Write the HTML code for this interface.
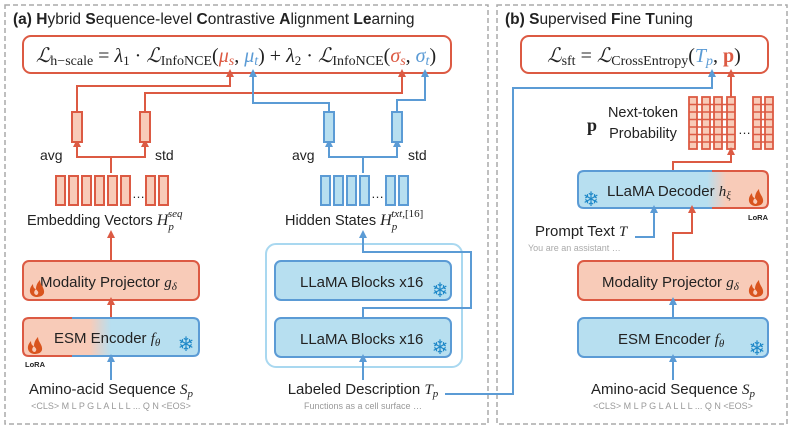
<!DOCTYPE html>
<html><head><meta charset="utf-8"><style>
body{margin:0;background:#fff}
svg{display:block}
text{font-family:"Liberation Sans",sans-serif}
.m{font-family:"Liberation Serif",serif}
.i{font-style:italic}
</style></head><body>
<svg width="793" height="430" viewBox="0 0 793 430" xmlns="http://www.w3.org/2000/svg">
<defs>
<marker id="ar" markerWidth="8" markerHeight="8" refX="4" refY="4" orient="auto" markerUnits="userSpaceOnUse"><path d="M0,0 L8,4 L0,8 z" fill="#dc5a43"/></marker>
<marker id="ab" markerWidth="8" markerHeight="8" refX="4" refY="4" orient="auto" markerUnits="userSpaceOnUse"><path d="M0,0 L8,4 L0,8 z" fill="#5b9bd5"/></marker>
<linearGradient id="g1" x1="0" x2="1"><stop offset="0.38" stop-color="#f8cbb8"/><stop offset="0.5" stop-color="#b7dff0"/></linearGradient>
<linearGradient id="g2" x1="0" x2="1"><stop offset="0.68" stop-color="#b7dff0"/><stop offset="0.78" stop-color="#f8cbb8"/></linearGradient>
<g id="fire"><path d="M0,0 C-7,-1 -8,-8 -3,-13 C-3,-9 -1,-8 0,-8 C0,-12 2,-15 4,-17 C4,-12 9,-9 8,-4 C7,-1 4,0 0,0 z M1,-2 C-2,-2 -3,-5 0,-8 C1,-6 4,-5 1,-2z" fill="#d9541e" fill-rule="evenodd"/></g>
</defs>
<rect x="5" y="5" width="483" height="419" fill="none" stroke="#aaa" stroke-width="1.5" stroke-dasharray="5,3"/>
<rect x="497" y="5" width="290" height="419" fill="none" stroke="#aaa" stroke-width="1.5" stroke-dasharray="5,3"/>
<text x="13" y="24" font-size="15.5" fill="#222"><tspan font-weight="bold">(a) H</tspan>ybrid <tspan font-weight="bold">S</tspan>equence-level <tspan font-weight="bold">C</tspan>ontrastive <tspan font-weight="bold">A</tspan>lignment <tspan font-weight="bold">Le</tspan>arning</text>
<text x="505" y="24" font-size="15.5" fill="#222"><tspan font-weight="bold">(b) S</tspan>upervised <tspan font-weight="bold">F</tspan>ine <tspan font-weight="bold">T</tspan>uning</text>

<rect x="23" y="36" width="428" height="37" rx="8" fill="#fff" stroke="#dc5a43" stroke-width="2"/>
<text x="236" y="62" text-anchor="middle" class="m" font-size="20" fill="#222"><tspan class="i">ℒ</tspan><tspan font-size="14" dy="3">h−scale</tspan><tspan dy="-3"> = </tspan><tspan class="i">λ</tspan><tspan font-size="13" dy="3">1</tspan><tspan dy="-3"> · </tspan><tspan class="i">ℒ</tspan><tspan font-size="14" dy="3">InfoNCE</tspan><tspan dy="-3">(</tspan><tspan class="i" fill="#dc5a43">μ</tspan><tspan class="i" fill="#dc5a43" font-size="14" dy="3">s</tspan><tspan dy="-3">, </tspan><tspan class="i" fill="#5b9bd5">μ</tspan><tspan class="i" fill="#5b9bd5" font-size="14" dy="3">t</tspan><tspan dy="-3">) + </tspan><tspan class="i">λ</tspan><tspan font-size="13" dy="3">2</tspan><tspan dy="-3"> · </tspan><tspan class="i">ℒ</tspan><tspan font-size="14" dy="3">InfoNCE</tspan><tspan dy="-3">(</tspan><tspan class="i" fill="#dc5a43">σ</tspan><tspan class="i" fill="#dc5a43" font-size="14" dy="3">s</tspan><tspan dy="-3">, </tspan><tspan class="i" fill="#5b9bd5">σ</tspan><tspan class="i" fill="#5b9bd5" font-size="14" dy="3">t</tspan><tspan dy="-3">)</tspan></text>
<rect x="521" y="36" width="247" height="37" rx="8" fill="#fff" stroke="#dc5a43" stroke-width="2"/>
<text x="644" y="62" text-anchor="middle" class="m" font-size="20" fill="#222"><tspan class="i">ℒ</tspan><tspan font-size="14" dy="3">sft</tspan><tspan dy="-3"> = </tspan><tspan class="i">ℒ</tspan><tspan font-size="14" dy="3">CrossEntropy</tspan><tspan dy="-3">(</tspan><tspan class="i" fill="#5b9bd5">T</tspan><tspan class="i" fill="#5b9bd5" font-size="14" dy="3">p</tspan><tspan dy="-3">, </tspan><tspan font-weight="bold" fill="#dc5a43">p</tspan><tspan>)</tspan></text>

<g fill="none" stroke-width="2">
<polyline points="77,112 77,86 230,86 230,73" stroke="#dc5a43" marker-end="url(#ar)"/>
<polyline points="145,112 145,93 402,93 402,73" stroke="#dc5a43" marker-end="url(#ar)"/>
<polyline points="329,112 329,103 253,103 253,73" stroke="#5b9bd5" marker-end="url(#ab)"/>
<polyline points="397,112 397,100 425,100 425,73" stroke="#5b9bd5" marker-end="url(#ab)"/>
<polyline points="111,173 111,157 77,157 77,143" stroke="#dc5a43" marker-end="url(#ar)"/>
<polyline points="111,157 145,157 145,143" stroke="#dc5a43" marker-end="url(#ar)"/>
<polyline points="363,173 363,157 329,157 329,143" stroke="#5b9bd5" marker-end="url(#ab)"/>
<polyline points="363,157 397,157 397,143" stroke="#5b9bd5" marker-end="url(#ab)"/>
</g>
<rect x="72" y="112" width="10" height="30" fill="#f8cbb8" stroke="#dc5a43" stroke-width="2"/>
<rect x="140" y="112" width="10" height="30" fill="#f8cbb8" stroke="#dc5a43" stroke-width="2"/>
<rect x="324" y="112" width="10" height="30" fill="#b7dff0" stroke="#5b9bd5" stroke-width="2"/>
<rect x="392" y="112" width="10" height="30" fill="#b7dff0" stroke="#5b9bd5" stroke-width="2"/>
<text x="40" y="160" font-size="14" fill="#222">avg</text>
<text x="155" y="160" font-size="14" fill="#222">std</text>
<text x="292" y="160" font-size="14" fill="#222">avg</text>
<text x="408" y="160" font-size="14" fill="#222">std</text>
<g fill="#f8cbb8" stroke="#dc5a43" stroke-width="2">
<rect x="56" y="176" width="9" height="29"/><rect x="69" y="176" width="9" height="29"/><rect x="82" y="176" width="9" height="29"/><rect x="95" y="176" width="9" height="29"/><rect x="108" y="176" width="9" height="29"/><rect x="121" y="176" width="9" height="29"/><rect x="146" y="176" width="9" height="29"/><rect x="159" y="176" width="9" height="29"/>
</g>
<text x="132" y="198" font-size="13" fill="#222">…</text>
<g fill="#b7dff0" stroke="#5b9bd5" stroke-width="2">
<rect x="321" y="176" width="9" height="29"/><rect x="334" y="176" width="9" height="29"/><rect x="347" y="176" width="9" height="29"/><rect x="360" y="176" width="9" height="29"/><rect x="386" y="176" width="9" height="29"/><rect x="399" y="176" width="9" height="29"/>
</g>
<text x="371" y="198" font-size="13" fill="#222">…</text>
<text x="27" y="225" font-size="14.5" fill="#222">Embedding Vectors <tspan class="m i" font-size="16">H</tspan><tspan class="m i" font-size="11" dy="5">p</tspan><tspan class="m i" font-size="11" dy="-13" dx="-6">seq</tspan></text>
<text x="285" y="225" font-size="14.5" fill="#222">Hidden States <tspan class="m i" font-size="16">H</tspan><tspan class="m i" font-size="11" dy="5">p</tspan><tspan class="m" font-size="11" dy="-13" dx="-6"><tspan class="i">txt</tspan>,[16]</tspan></text>

<line x1="111" y1="260" x2="111" y2="234" stroke="#dc5a43" stroke-width="2" marker-end="url(#ar)"/>
<rect x="23" y="261" width="176" height="39" rx="6" fill="#f8cbb8" stroke="#dc5a43" stroke-width="2"/>
<text x="40" y="287" font-size="15" fill="#222">Modality Projector <tspan class="m i">g</tspan><tspan class="m i" font-size="11" dy="3">δ</tspan></text>
<use href="#fire" x="36" y="297"/>
<line x1="111" y1="318" x2="111" y2="301" stroke="#dc5a43" stroke-width="2" marker-end="url(#ar)"/>
<rect x="23" y="318" width="176" height="38" rx="6" fill="url(#g1)" stroke="none"/>
<path d="M29,318 H72 M29,356 H72 M23,324 V350" stroke="#dc5a43" stroke-width="2" fill="none"/>
<path d="M72,318 H193 Q199,318 199,324 V350 Q199,356 193,356 H72" stroke="#5b9bd5" stroke-width="2" fill="none"/>
<path d="M29,318 Q23,318 23,324 M23,350 Q23,356 29,356" stroke="#dc5a43" stroke-width="2" fill="none"/>
<text x="54" y="343" font-size="15" fill="#222">ESM Encoder <tspan class="m i">f</tspan><tspan class="m i" font-size="11" dy="3">θ</tspan></text>
<use href="#fire" x="34" y="354"/>
<text x="186" y="351" font-size="20" fill="#1e88c8" text-anchor="middle">❄</text>
<text x="25" y="367" font-size="7.5" font-weight="bold" fill="#222">LoRA</text>
<line x1="111" y1="380" x2="111" y2="358" stroke="#5b9bd5" stroke-width="2" marker-end="url(#ab)"/>
<text x="111" y="394" text-anchor="middle" font-size="15" fill="#222">Amino-acid Sequence <tspan class="m i">S</tspan><tspan class="m i" font-size="11" dy="3">p</tspan></text>
<text x="111" y="409" text-anchor="middle" font-size="9" fill="#999">&lt;CLS&gt; M L P G L A L L L ... Q N &lt;EOS&gt;</text>

<rect x="266" y="244" width="196" height="123" rx="10" fill="none" stroke="#a9d8f0" stroke-width="2"/>
<rect x="275" y="261" width="176" height="39" rx="6" fill="#b7dff0" stroke="#5b9bd5" stroke-width="2"/>
<text x="300" y="287" font-size="15" fill="#222">LLaMA Blocks x16</text>
<text x="440" y="297" font-size="20" fill="#1e88c8" text-anchor="middle">❄</text>
<rect x="275" y="318" width="176" height="39" rx="6" fill="#b7dff0" stroke="#5b9bd5" stroke-width="2"/>
<text x="300" y="344" font-size="15" fill="#222">LLaMA Blocks x16</text>
<text x="440" y="354" font-size="20" fill="#1e88c8" text-anchor="middle">❄</text>
<polyline points="363,318 363,308 471,308 471,252 363,252 363,234" fill="none" stroke="#5b9bd5" stroke-width="2" marker-end="url(#ab)"/>
<line x1="363" y1="380" x2="363" y2="358" stroke="#5b9bd5" stroke-width="2" marker-end="url(#ab)"/>
<text x="363" y="394" text-anchor="middle" font-size="15" fill="#222">Labeled Description <tspan class="m i">T</tspan><tspan class="m i" font-size="11" dy="3">p</tspan></text>
<text x="363" y="409" text-anchor="middle" font-size="9" fill="#999">Functions as a cell surface …</text>
<polyline points="445,394 513,394 513,88 712,88 712,73" fill="none" stroke="#5b9bd5" stroke-width="2" marker-end="url(#ab)"/>

<line x1="731" y1="97" x2="731" y2="73" stroke="#dc5a43" stroke-width="2" marker-end="url(#ar)"/>
<g fill="#f8cbb8" stroke="#dc5a43" stroke-width="1.8">
<rect x="689" y="97" width="8" height="52"/><rect x="702" y="97" width="8" height="52"/><rect x="714" y="97" width="8" height="52"/><rect x="727" y="97" width="8" height="52"/><rect x="753" y="97" width="8" height="52"/><rect x="765" y="97" width="8" height="52"/>
</g>
<g stroke="#dc5a43" stroke-width="1.5">
<path d="M689,104.5H735M689,112H735M689,119.5H735M689,127H735M689,134.5H735M689,142H735M753,104.5H773M753,112H773M753,119.5H773M753,127H773M753,134.5H773M753,142H773"/>
</g>
<text x="738" y="134" font-size="13" fill="#222">…</text>
<text x="587" y="131" class="m" font-size="18" font-weight="bold" fill="#222">p</text>
<text x="643" y="117" text-anchor="middle" font-size="14.5" fill="#222">Next-token</text>
<text x="643" y="138" text-anchor="middle" font-size="14.5" fill="#222">Probability</text>
<polyline points="673,171 673,162 731,162 731,151" fill="none" stroke="#dc5a43" stroke-width="2" marker-end="url(#ar)"/>
<rect x="578" y="171" width="190" height="37" rx="6" fill="url(#g2)"/>
<path d="M712,171 H584 Q578,171 578,177 V202 Q578,208 584,208 H712" stroke="#5b9bd5" stroke-width="2" fill="none"/>
<path d="M712,171 H762 Q768,171 768,177 V202 Q768,208 762,208 H712" stroke="#dc5a43" stroke-width="2" fill="none"/>
<text x="607" y="196" font-size="15" fill="#222">LLaMA Decoder <tspan class="m i">h</tspan><tspan class="m i" font-size="11" dy="3">ξ</tspan></text>
<text x="591" y="206" font-size="20" fill="#1e88c8" text-anchor="middle">❄</text>
<use href="#fire" x="755" y="206"/>
<text x="748" y="220" font-size="7.5" font-weight="bold" fill="#222">LoRA</text>
<text x="535" y="236" font-size="15" fill="#222">Prompt Text <tspan class="m i">T</tspan></text>
<text x="528" y="251" font-size="9" fill="#aaa">You are an assistant …</text>
<polyline points="635,237 654,237 654,209" fill="none" stroke="#5b9bd5" stroke-width="2" marker-end="url(#ab)"/>
<polyline points="673,261 673,233 692,233 692,209" fill="none" stroke="#dc5a43" stroke-width="2" marker-end="url(#ar)"/>
<rect x="578" y="261" width="190" height="39" rx="6" fill="#f8cbb8" stroke="#dc5a43" stroke-width="2"/>
<text x="602" y="287" font-size="15" fill="#222">Modality Projector <tspan class="m i">g</tspan><tspan class="m i" font-size="11" dy="3">δ</tspan></text>
<use href="#fire" x="755" y="297"/>
<line x1="673" y1="318" x2="673" y2="301" stroke="#5b9bd5" stroke-width="2" marker-end="url(#ab)"/>
<rect x="578" y="318" width="190" height="39" rx="6" fill="#b7dff0" stroke="#5b9bd5" stroke-width="2"/>
<text x="618" y="344" font-size="15" fill="#222">ESM Encoder <tspan class="m i">f</tspan><tspan class="m i" font-size="11" dy="3">θ</tspan></text>
<text x="757" y="355" font-size="20" fill="#1e88c8" text-anchor="middle">❄</text>
<line x1="673" y1="380" x2="673" y2="358" stroke="#5b9bd5" stroke-width="2" marker-end="url(#ab)"/>
<text x="673" y="394" text-anchor="middle" font-size="15" fill="#222">Amino-acid Sequence <tspan class="m i">S</tspan><tspan class="m i" font-size="11" dy="3">p</tspan></text>
<text x="673" y="409" text-anchor="middle" font-size="9" fill="#999">&lt;CLS&gt; M L P G L A L L L ... Q N &lt;EOS&gt;</text>
</svg>
</body></html>
